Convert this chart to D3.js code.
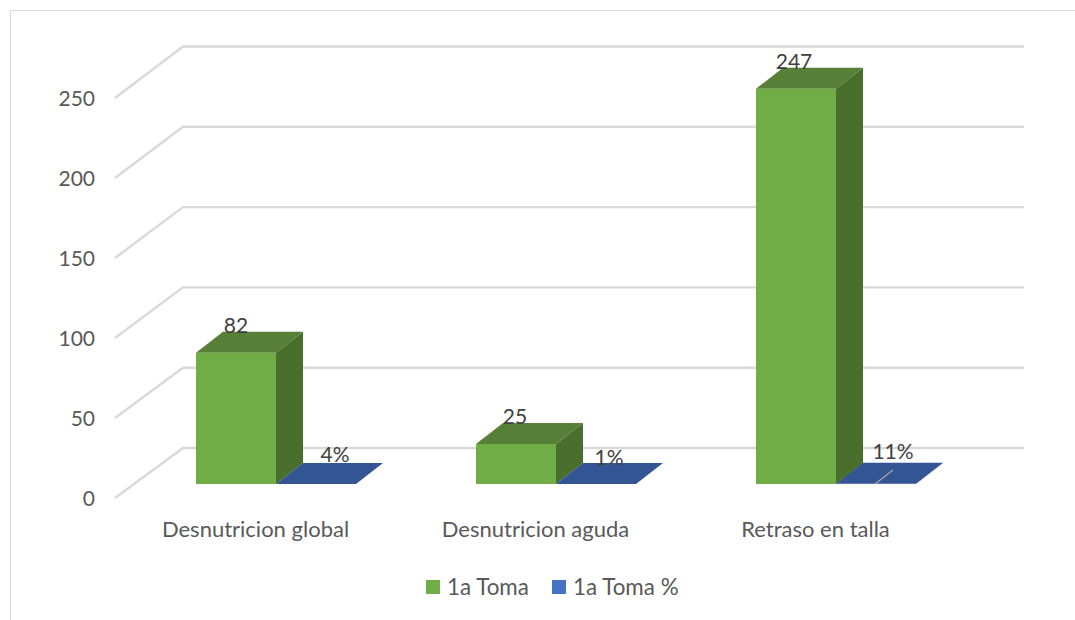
<!DOCTYPE html>
<html><head><meta charset="utf-8">
<script src="https://cdnjs.cloudflare.com/ajax/libs/d3/7.8.5/d3.min.js"></script>
<style>html,body{margin:0;background:#fff}svg{display:block}text{font-family:Lato,"Open Sans",sans-serif}</style>
</head><body><script>
const categories = ["Desnutricion global","Desnutricion aguda","Retraso en talla"];
const seriesNames = ["1a Toma","1a Toma %"];
const toma = [82,25,247];
const tomaPct = [0.04,0.01,0.11];
const tomaPctLabels = ["4%","1%","11%"];
const ticks = [0,50,100,150,200,250];
const colorsFront = ["#70ad47","#4472c4"];
const colorsTop = ["#567f37","#335593"];
const colorsSide = ["#4a6e2b","#2c4a80"];
const labelShift = [[0,-1,-2],[19,13,17]];
const labelLift = [[20,20,20],[22,19,25]];

const W=1075,H=620;
const svg=d3.select("body").append("svg").attr("width",W).attr("height",H);
svg.append("path").attr("d","M10.5,620V10.5H1075").attr("fill","none").attr("stroke","#d9d9d9").attr("stroke-width",1);

const frontY=d3.scaleLinear().domain([0,250]).range([498,98]);
const backY=d3.scaleLinear().domain([0,250]).range([448,46.5]);
const backX=183,plotRight=1024;
const x0=d3.scaleBand().domain(categories).range([136,976]).paddingInner(0.4286).paddingOuter(0.2143);
const x1=d3.scaleBand().domain(seriesNames).range([0,x0.bandwidth()]);
const barBase=484,depthX=27,depthY=-21;
const barH=d3.scaleLinear().domain([0,250]).range([0,400]);

const g=svg.append("g").attr("fill","none").attr("stroke","#d9d9d9").attr("stroke-width",2.4);
g.selectAll("path").data(ticks).join("path")
 .attr("d",t=>`M115,${frontY(t)}L${backX},${backY(t)}H${plotRight}`);

svg.append("g").selectAll("text").data(ticks).join("text")
 .attr("x",95).attr("y",t=>frontY(t)+8).attr("text-anchor","end")
 .attr("font-size",21).attr("fill","#595959").text(d=>d);

const series=[toma,tomaPct];
const lab=[toma.map(String),tomaPctLabels];
categories.forEach((c,i)=>{
  seriesNames.forEach((s,j)=>{
    const v=series[j][i], x=x0(c)+x1(s), w=x1.bandwidth(), h=barH(v), top=barBase-h;
    const b=svg.append("g");
    b.append("rect").attr("x",x).attr("y",top).attr("width",w).attr("height",h).attr("fill",colorsFront[j]);
    b.append("path").attr("d",`M${x+w},${top}l${depthX},${depthY}V${barBase+depthY}L${x+w},${barBase}Z`).attr("fill",colorsSide[j]);
    b.append("path").attr("d",`M${x},${top}l${depthX},${depthY}h${w}l${-depthX},${-depthY}Z`).attr("fill",colorsTop[j]);
  });
});
{
  const x=x0(categories[2])+x1(seriesNames[1])+x1.bandwidth()/2;
  svg.append("line").attr("x1",x-1).attr("y1",barBase).attr("x2",x+17).attr("y2",barBase-14)
   .attr("stroke","#a6a6a6").attr("stroke-width",1.2);
}
categories.forEach((c,i)=>{
  seriesNames.forEach((s,j)=>{
    const x=x0(c)+x1(s)+x1.bandwidth()/2+labelShift[j][i];
    const y=barBase-barH(series[j][i])-labelLift[j][i];
    svg.append("text").attr("x",x).attr("y",y).attr("text-anchor","middle")
     .attr("font-size",21).attr("fill","#404040").text(lab[j][i]);
  });
});
svg.append("g").selectAll("text").data(categories).join("text")
 .attr("x",d=>x0(d)+x0.bandwidth()/2-20.5).attr("y",537).attr("text-anchor","middle")
 .attr("font-size",22).attr("fill","#595959").text(d=>d);
const legendX=[426,552];
seriesNames.forEach((s,j)=>{
  svg.append("rect").attr("x",legendX[j]).attr("y",580).attr("width",14).attr("height",14).attr("fill",colorsFront[j]);
  svg.append("text").attr("x",legendX[j]+21).attr("y",595).attr("font-size",22.4).attr("fill","#595959").text(s);
});
</script></body></html>
